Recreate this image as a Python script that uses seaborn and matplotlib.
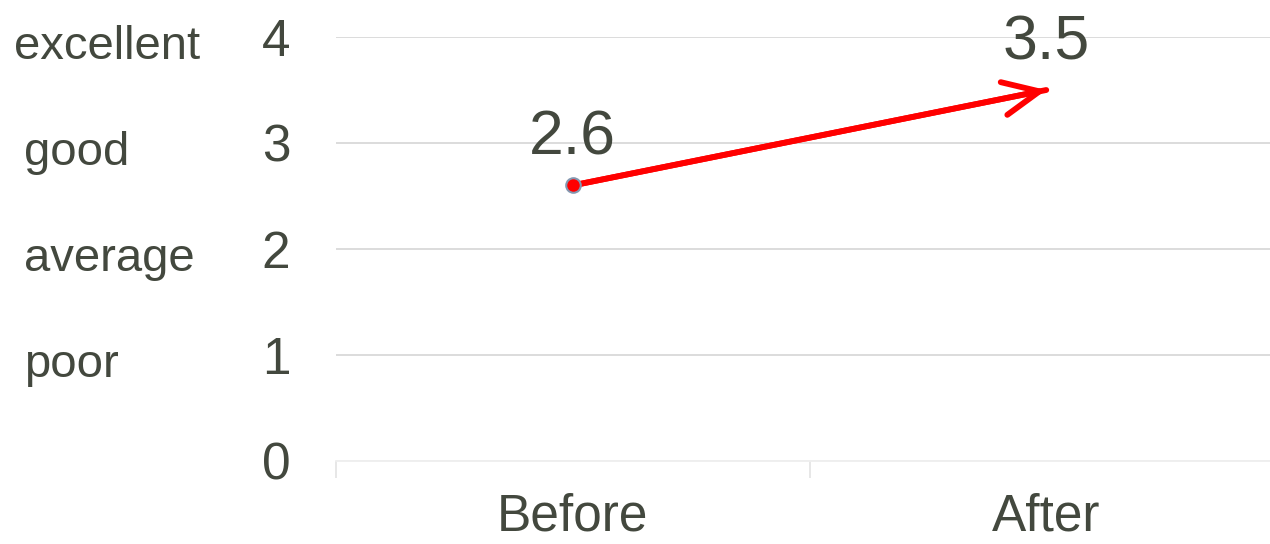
import matplotlib
matplotlib.use('Agg')
import matplotlib.pyplot as plt
import matplotlib.transforms as mtransforms
import seaborn as sns
import pandas as pd

# data
stages = ['Before', 'After']
scores = [2.6, 3.5]
rating_names = ['excellent', 'good', 'average', 'poor']
rating_levels = [4, 3, 2, 1]
rating_left = [14, 24, 24, 24]  # pixels from left edge

text_color = '#43483e'
line_color = '#ff0000'

sns.set_theme(style='white')
plt.rcParams['font.family'] = ['Liberation Sans', 'DejaVu Sans']

df = pd.DataFrame({'stage': stages, 'score': scores})

fig = plt.figure(figsize=(12.7, 5.44), dpi=100)
ax = fig.add_axes([336 / 1270, 1 - 461 / 544, 947 / 1270, (461 - 37) / 544])

# line + arrow
sns.lineplot(data=df, x='stage', y='score', color=line_color, linewidth=4.2, ax=ax, zorder=3)
ax.annotate('', xy=(1, scores[1]), xytext=(0, scores[0]),
            arrowprops=dict(arrowstyle='->,head_length=2.6,head_width=1.2',
                            mutation_scale=10, color=line_color, lw=4.2,
                            shrinkA=0, shrinkB=0), zorder=4)
sns.scatterplot(data=df.iloc[:1], x='stage', y='score', color=line_color, s=110,
                edgecolor='#8497b0', linewidth=1.5, ax=ax, zorder=5)

# value labels
for i, v in enumerate(scores):
    ax.annotate(f'{v:.1f}', xy=(i, v), xytext=(0, 22), textcoords='offset points',
                ha='center', va='baseline', fontsize=45, color=text_color,
                annotation_clip=False)

ax.set_xlim(-0.5, 1.5)
ax.set_ylim(0, 4)
ax.set_yticks([0, 1, 2, 3, 4])
ax.set_xlabel('')
ax.set_ylabel('')

ax.grid(axis='y', color='#d9d9d9', linewidth=1.3)
ax.get_ygridlines()[0].set_color('#eeeeee')
ax.set_axisbelow(True)
for side in ['top', 'right', 'left']:
    ax.spines[side].set_visible(False)
ax.spines['bottom'].set_color('#eeeeee')
ax.spines['bottom'].set_linewidth(1.3)

ax.tick_params(axis='y', length=0, pad=33, labelsize=37, labelcolor=text_color)
ax.tick_params(axis='x', which='major', bottom=True, length=0, pad=23, labelsize=37,
               labelcolor=text_color)
ax.set_xticks([-0.5, 0.5, 1.5], minor=True)
ax.tick_params(axis='x', which='minor', bottom=True, length=12, width=1.2,
               color='#e3e3e3', direction='out')

# rating words on the left
for name, lvl, left in zip(rating_names, rating_levels, rating_left):
    trans = mtransforms.blended_transform_factory(fig.transFigure, ax.transData)
    trans = trans + mtransforms.ScaledTranslation(0, -22 / 100, fig.dpi_scale_trans)
    ax.text(left / 1270, lvl, name, transform=trans, ha='left', va='baseline',
            fontsize=34, color=text_color, clip_on=False)

fig.savefig('out.png', dpi=100)
